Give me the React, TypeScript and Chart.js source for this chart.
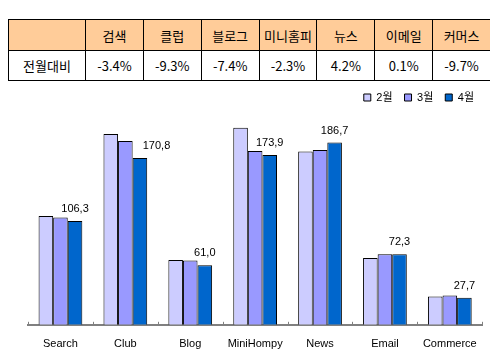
import React, { useEffect, useRef } from "react";
import { Chart, registerables } from "chart.js";
Chart.register(...registerables);

const categories = ["Search", "Club", "Blog", "MiniHompy", "News", "Email", "Commerce"];
const seriesNames = ["2월", "3월", "4월"];
const febValues = [111.5, 195.5, 66.5, 202.0, 177.5, 68.5, 29.0];
const marValues = [110.0, 188.3, 65.9, 178.0, 179.2, 72.2, 30.0];
const aprValues = [106.3, 170.8, 61.0, 173.9, 186.7, 72.3, 27.7];
const tableHeaders = ["검색", "클럽", "블로그", "미니홈피", "뉴스", "이메일", "커머스"];
const tableRowLabel = "전월대비";
const tableChanges = ["-3.4%", "-9.3%", "-7.4%", "-2.3%", "4.2%", "0.1%", "-9.7%"];
const yMax = 217;

const seriesColors = ["#CCCCFF", "#9999FF", "#0066CC"];
const FONT = "'Liberation Sans', 'Noto Sans CJK KR', sans-serif";

const valueLabelPlugin = {
  id: "valueLabels",
  afterDatasetsDraw(chart: any) {
    const ctx = chart.ctx;
    const meta = chart.getDatasetMeta(2);
    const prev = chart.getDatasetMeta(1);
    ctx.save();
    ctx.font = `11px ${FONT}`;
    ctx.fillStyle = "#000";
    ctx.textAlign = "center";
    ctx.textBaseline = "middle";
    meta.data.forEach((bar: any, i: number) => {
      const v = chart.data.datasets[2].data[i] as number;
      const text = v.toFixed(1).replace(".", ",");
      const w = ctx.measureText(text).width;
      let x = bar.x;
      const y = bar.y - 12;
      const pb = prev.data[i];
      const left = x - w / 2;
      const pRight = pb.x + pb.width / 2;
      if (left < pRight && y + 6 > pb.y) {
        x = bar.x + bar.width + 2;
      }
      ctx.fillText(text, x, y);
    });
    ctx.restore();
  },
};

const tickMarkPlugin = {
  id: "tickMarks",
  afterDraw(chart: any) {
    const ctx = chart.ctx;
    const xs = chart.scales.x;
    const n = chart.data.labels.length;
    const base = chart.chartArea.bottom;
    ctx.save();
    ctx.strokeStyle = "#808080";
    ctx.lineWidth = 1;
    for (let k = 0; k <= n; k++) {
      const px = Math.round(xs.getPixelForValue(k - 0.5)) + 0.5;
      ctx.beginPath();
      ctx.moveTo(px, base - 3);
      ctx.lineTo(px, base + 1);
      ctx.stroke();
    }
    ctx.restore();
  },
};

function ChartCanvas() {
  const ref = useRef<HTMLCanvasElement>(null);
  useEffect(() => {
    if (!ref.current) return;
    const values = [febValues, marValues, aprValues];
    const chart = new Chart(ref.current, {
      type: "bar",
      data: {
        labels: categories,
        datasets: seriesNames.map((name, i) => ({
          label: name,
          data: values[i],
          backgroundColor: seriesColors[i],
          borderColor: "#000000",
          borderWidth: 1,
          borderSkipped: "bottom",
          categoryPercentage: 0.674,
          barPercentage: 1,
        })),
      },
      options: {
        responsive: false,
        animation: false,
        layout: { padding: { left: 20, right: 4, top: 0, bottom: 1 } },
        plugins: {
          legend: {
            position: "top",
            align: "end",
            labels: {
              boxWidth: 7,
              boxHeight: 7,
              padding: 12,
              color: "#000",
              font: { family: FONT, size: 11 },
            },
          },
          tooltip: { enabled: false },
        },
        scales: {
          x: {
            grid: { display: true, drawOnChartArea: false, drawTicks: false },
            border: { display: true, color: "#808080", width: 2 },
            ticks: { color: "#000", padding: 13, font: { family: FONT, size: 11 } },
          },
          y: { display: false, min: 0, max: yMax },
        },
      },
      plugins: [valueLabelPlugin, tickMarkPlugin],
    });
    return () => chart.destroy();
  }, []);
  return <canvas ref={ref} width={482} height={285} />;
}

const cellStyle: React.CSSProperties = {
  border: "1px solid #000",
  padding: 0,
  textAlign: "center",
  verticalAlign: "middle",
  fontSize: "13px",
};

export default function App() {
  return (
    <div style={{ position: "relative", width: 482, height: 344, overflow: "hidden", fontFamily: "'Noto Sans CJK KR', sans-serif" }}>
      <table
        style={{
          position: "absolute",
          top: 11,
          left: 0,
          width: 482,
          borderCollapse: "collapse",
          tableLayout: "fixed",
        }}
      >
        <colgroup>
          <col style={{ width: 77 }} />
          {tableHeaders.map((h) => (
            <col key={h} style={{ width: 57.86 }} />
          ))}
        </colgroup>
        <tbody>
          <tr style={{ height: 31, background: "#FFCC99" }}>
            <td style={cellStyle}></td>
            {tableHeaders.map((h) => (
              <td key={h} style={cellStyle}>{h}</td>
            ))}
          </tr>
          <tr style={{ height: 30, background: "#FFFFFF" }}>
            <td style={cellStyle}>{tableRowLabel}</td>
            {tableChanges.map((c, i) => (
              <td key={i} style={cellStyle}>{c}</td>
            ))}
          </tr>
        </tbody>
      </table>
      <div style={{ position: "absolute", top: 72, left: 0 }}>
        <ChartCanvas />
      </div>
    </div>
  );
}
